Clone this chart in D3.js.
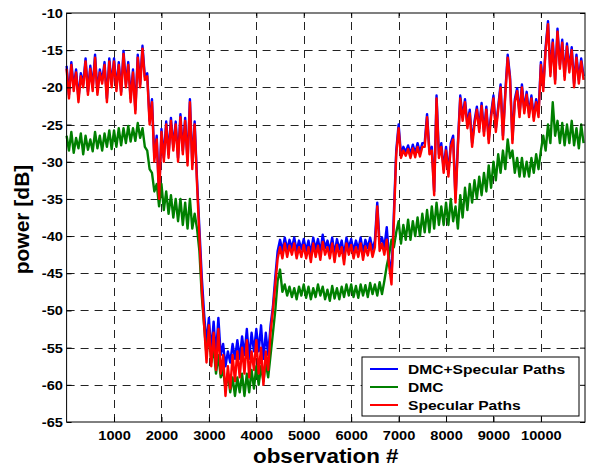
<!DOCTYPE html>
<html>
<head>
<meta charset="utf-8">
<script src="https://cdn.jsdelivr.net/npm/d3@7"></script>
<style>
  body { margin: 0; background: #fff; }
  svg text { font-family: Arial, "Liberation Sans", sans-serif; font-weight: bold; fill: #000; }
</style>
</head>
<body>
<svg id="chart"></svg>
<script>
// observations are sampled every 50 steps, starting at 0
const step = 50;

// DMC + Specular Paths (blue)
const blue = [
  -17.1,-21,-16.6,-20,-17.6,-21.5,-18.1,-19.6,-16.1,-20.6,-17.1,-20,-15.6,-20.6,-17.6,-19.1,-16.6,-21.5,-16.1,-19.6,
  -16.1,-20.1,-16.6,-20.6,-15.1,-19.6,-16.6,-21.5,-17.6,-23,-15.6,-19.6,-14.4,-18.6,-18.1,-24.5,-21.6,-29.4,-26.5,-34.5,
  -25.6,-29.5,-24.6,-29,-24.1,-28,-24.6,-29.5,-23.6,-28.5,-24.1,-30,-21.6,-30.4,-24.6,-32.4,-39,-45.5,-50.5,-54.5,
  -51,-55.5,-51.5,-56,-51,-56,-54.5,-57.5,-55.5,-57,-54.5,-56.5,-54,-56.5,-53.5,-56,-52.5,-56.5,-53,-55.5,
  -52.5,-55.5,-52,-56.5,-53,-56,-52,-49.5,-45.5,-42,-40.5,-42,-40.2,-41.8,-40.5,-41.6,-40.2,-42,-40.6,-41.8,
  -40.4,-42,-40.6,-42.4,-40.2,-41.8,-40.4,-42.2,-39.8,-41.6,-40.6,-42,-40.2,-42.4,-40.4,-41.8,-40.6,-42.6,-40.2,-41.6,
  -40.4,-42,-40.6,-41.8,-40.2,-42.2,-40.5,-41.6,-40.2,-41.8,-40.6,-35.5,-41,-40.2,-41.5,-38.8,-43,-45.5,-37,-28.5,
  -25,-29,-28,-28.7,-27.8,-29,-27.7,-28.9,-27.5,-28.8,-27.5,-27.5,-23.6,-28.5,-28,-34,-21.1,-29,-27.5,-31,
  -28,-31.5,-27.5,-26.5,-35,-27.5,-21.1,-24,-21.6,-25,-23,-27.5,-24.5,-22.6,-25.5,-22.1,-26,-22.6,-27,-23.5,
  -21.1,-25.5,-22.6,-19.6,-26.5,-20.6,-15.6,-18.6,-27,-21.6,-20.1,-23.5,-19.6,-23,-20.6,-23.5,-21.1,-24,-21.6,-23.5,
  -16.6,-20,-14.6,-11.1,-18,-13.6,-19,-12.1,-17,-13.6,-18.5,-14.1,-17.5,-14.6,-19.5,-15.6,-19,-16.1,-18.5
];

// DMC (green)
const green = [
  -26.5,-28.5,-26,-28.8,-26.8,-28.2,-26.2,-29,-26.5,-28.4,-27,-28.6,-26,-28.2,-26.5,-28.5,-26.2,-28,-25.8,-28.3,
  -25.8,-28,-25.5,-27.8,-25.5,-27.5,-25.2,-27.3,-25.5,-27.2,-24.8,-26.8,-25.5,-28,-28.5,-31,-31.5,-34,-33,-36,
  -33,-36.5,-34,-37,-34.5,-37.5,-35,-38,-35,-38.5,-35.5,-39,-35,-39,-37,-39,-42,-48,-52,-56,
  -53,-57,-55,-58.5,-56,-59,-58,-60.5,-58.5,-61,-59,-61.5,-59,-61,-58.5,-61.5,-58.5,-61,-58,-60.5,
  -57.5,-60,-57.5,-59.5,-57,-59,-56,-53,-50,-46,-44.5,-47.5,-46.5,-48,-46.8,-48.2,-47,-48.5,-46.8,-48,
  -46.5,-48.3,-46.8,-48.5,-47,-48.2,-46.5,-48,-46.8,-48.5,-47.2,-48.7,-46.7,-48.4,-47,-48.5,-46.8,-48.2,-46.5,-48,
  -46.5,-48.2,-46.7,-48.3,-46.5,-48,-46.6,-48.2,-46.3,-47.8,-46.5,-48,-46.2,-47.8,-46,-44,-42.5,-40.5,-41.5,-39.5,
  -38,-41,-38.5,-40.5,-37.8,-40.5,-38,-40,-37.5,-40,-37,-39.5,-36.5,-39.5,-36,-39,-35.5,-38.5,-36,-38.5,
  -35.5,-38.5,-35,-38,-36,-39,-34.5,-37.5,-33.5,-36.5,-33,-35.5,-32.5,-35,-32,-34.5,-31.5,-34,-30.5,-33.5,
  -30,-32.5,-29,-31.5,-28.5,-31,-27,-29.5,-28.5,-31.5,-29.5,-32,-29.5,-32,-30,-32,-29.5,-31.5,-29,-31,
  -28.5,-26.5,-28.5,-25,-27.5,-22,-26.5,-24.5,-27.5,-24.8,-27.8,-25,-27.5,-24.5,-27.8,-25.5,-28.2,-25,-27.5
];

// Specular Paths (red)
const red = [
  -17.5,-21.5,-17,-20.5,-18,-22,-18.5,-20,-16.5,-21,-17.5,-20.5,-16,-21,-18,-19.5,-17,-22,-16.5,-20,
  -16.5,-20.5,-17,-21,-15.5,-20,-17,-22,-18,-23.5,-16,-20,-14.8,-19,-18.5,-25,-22,-30,-27,-35,
  -26,-30,-25,-29.5,-24.5,-28.5,-25,-30,-24,-29,-24.5,-30.5,-22,-31,-25,-33,-40,-47,-52,-57,
  -52,-57.5,-53,-58,-52.5,-58.5,-56,-61.5,-57.5,-60.5,-56,-59.5,-55.5,-59,-55,-58.5,-54,-59,-55.5,-58,
  -54,-58.5,-55,-60,-55.5,-58,-53,-50,-46.5,-43,-41.5,-43,-41,-42.8,-41.3,-42.5,-41,-43,-41.5,-42.8,
  -41.2,-43,-41.5,-43.5,-41,-42.8,-41.3,-43.2,-40.8,-42.5,-41.5,-43,-41,-43.5,-41.2,-42.7,-41.5,-43.8,-41,-42.5,
  -41.2,-43,-41.5,-42.8,-41,-43.2,-41.4,-42.6,-41,-42.8,-41.5,-36,-42,-41,-42.5,-40.5,-44,-46.5,-38,-29,
  -25.5,-29.5,-28.5,-29.2,-28.3,-29.5,-28.2,-29.4,-28,-29.3,-28,-28,-24,-29,-28.5,-34.5,-21.5,-29.5,-28,-31.5,
  -28.5,-32,-28,-27,-35.5,-28,-21.5,-24.5,-22,-25.5,-23.5,-28,-25,-23,-26,-22.5,-26.5,-23,-27.5,-24,
  -21.5,-26,-23,-20,-27,-21,-16,-19,-27.5,-22,-20.5,-24,-20,-23.5,-21,-24,-21.5,-24.5,-22,-24,
  -17,-20.5,-15,-11.5,-18.5,-14,-19.5,-12.5,-17.5,-14,-19,-14.5,-18,-15,-20,-16,-19.5,-16.5,-19
];

const xTicks = [1000, 2000, 3000, 4000, 5000, 6000, 7000, 8000, 9000, 10000];
const yTicks = [-65, -60, -55, -50, -45, -40, -35, -30, -25, -20, -15, -10];
const seriesNames = ["DMC+Specular Paths", "DMC", "Specular Paths"];
const seriesColors = ["#0000ff", "#008000", "#ff0000"];

const width = 590, height = 466;
const plotLeft = 66.6, plotRight = 585, plotTop = 13, plotBottom = 422;
const sx = 1.17; // labels look stretched horizontally

const svg = d3.select("#chart").attr("width", width).attr("height", height);

const x = d3.scaleLinear().domain([0, 10930]).range([plotLeft, plotRight]);
const y = d3.scaleLinear().domain([-65, -10]).range([plotBottom, plotTop]);

// grid
const grid = svg.append("g").attr("stroke", "#222").attr("stroke-width", 1).attr("stroke-dasharray", "8,6");
grid.selectAll(".gx").data(xTicks).enter().append("line")
  .attr("x1", d => Math.round(x(d)) + 0.5).attr("x2", d => Math.round(x(d)) + 0.5)
  .attr("y1", plotBottom).attr("y2", plotTop);
grid.selectAll(".gy").data(yTicks.slice(1, -1)).enter().append("line")
  .attr("y1", d => Math.round(y(d)) + 0.5).attr("y2", d => Math.round(y(d)) + 0.5)
  .attr("x1", plotLeft).attr("x2", plotRight);

// lines
const line = d3.line().x((d, i) => x(i * step)).y(d => y(d));
[blue, green, red].forEach((s, k) => {
  svg.append("path").datum(s)
    .attr("fill", "none")
    .attr("stroke", seriesColors[k])
    .attr("stroke-width", 2.4)
    .attr("stroke-linejoin", "round")
    .attr("d", line);
});

// axes, ticks inside on all four sides
const fmt = d => String(d);
const xAxis = svg.append("g").attr("transform", `translate(0,${plotBottom})`)
  .call(d3.axisBottom(x).tickValues(xTicks).tickFormat(fmt).tickSizeInner(-5).tickSizeOuter(0));
const yAxis = svg.append("g").attr("transform", `translate(${plotLeft},0)`)
  .call(d3.axisLeft(y).tickValues(yTicks).tickFormat(fmt).tickSizeInner(-5).tickSizeOuter(0));
svg.append("g").attr("transform", `translate(0,${plotTop})`)
  .call(d3.axisTop(x).tickValues(xTicks).tickSizeInner(-5).tickSizeOuter(0).tickFormat(""));
svg.append("g").attr("transform", `translate(${plotRight},0)`)
  .call(d3.axisRight(y).tickValues(yTicks).tickSizeInner(-5).tickSizeOuter(0).tickFormat(""));

svg.selectAll(".domain").remove();
svg.selectAll(".tick line").attr("stroke", "#000");

xAxis.selectAll("text")
  .attr("font-size", 12.5)
  .attr("y", 0).attr("dy", 0)
  .attr("transform", `translate(0,18) scale(${sx},1)`);
yAxis.selectAll("text")
  .attr("font-size", 12.5)
  .attr("x", -3.6 / sx).attr("dy", "0.36em")
  .attr("transform", `scale(${sx},1)`);

svg.append("rect")
  .attr("x", plotLeft).attr("y", plotTop)
  .attr("width", plotRight - plotLeft).attr("height", plotBottom - plotTop)
  .attr("fill", "none").attr("stroke", "#000").attr("stroke-width", 1);

// axis titles
svg.append("text")
  .attr("text-anchor", "middle").attr("font-size", 20)
  .attr("transform", `translate(${(plotLeft + plotRight) / 2},463) scale(1.12,1)`)
  .text("observation #");
svg.append("text")
  .attr("text-anchor", "middle").attr("font-size", 21)
  .attr("transform", `translate(29,${(plotTop + plotBottom) / 2 + 2}) rotate(-90)`)
  .text("power [dB]");

// legend
const legend = svg.append("g").attr("transform", "translate(362,357)");
legend.append("rect").attr("width", 217).attr("height", 59)
  .attr("fill", "#fff").attr("stroke", "#000").attr("stroke-width", 1);
const items = legend.selectAll(".item").data(seriesNames).enter().append("g")
  .attr("transform", (d, i) => `translate(0,${12 + i * 18})`);
items.append("line").attr("x1", 8).attr("x2", 36)
  .attr("stroke", (d, i) => seriesColors[i]).attr("stroke-width", 2);
items.append("text")
  .attr("font-size", 13).attr("dy", "0.36em")
  .attr("transform", "translate(46,0) scale(1.2,1)")
  .text(d => d);
</script>
</body>
</html>
